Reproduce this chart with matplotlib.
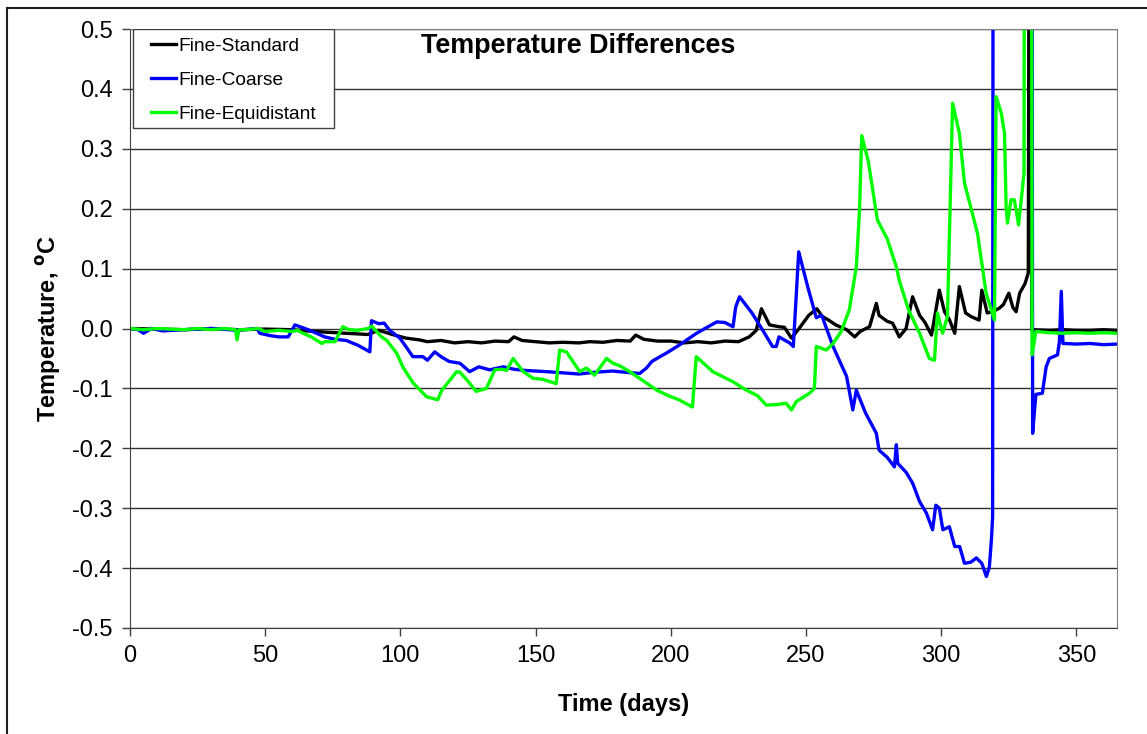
""" Temperature differences between grid resolutions """

import numpy as np
import matplotlib.pyplot as plt
from matplotlib.lines import Line2D
from matplotlib.patches import Rectangle

plt.rcParams['font.family'] = ['Liberation Sans', 'DejaVu Sans']
plt.rcParams['axes.unicode_minus'] = False

# Fine-Standard
std_days = [0, 10, 20, 30, 40, 50, 60, 65, 72, 80, 88, 92, 97, 102, 107, 110,
            115, 120, 125, 130, 135, 140, 142, 145, 150, 155, 160, 166, 170,
            175, 180, 185, 187, 190, 195, 200, 205, 210, 215, 220, 225, 229,
            231.6, 233.5, 236.5, 240, 242, 244.6, 247.6, 251, 254, 256, 258,
            261, 265, 268, 270, 273.5, 276, 277, 280, 282, 284.5, 287, 289.4,
            292, 294, 296.4, 299.3, 301.2, 303, 305, 306.7, 309, 311, 314, 315,
            317, 319, 321.5, 323, 325, 326.5, 327.7, 329, 331, 332.2, 332.6,
            333.2, 333.5, 340, 345, 350, 355, 360, 365]
std_vals = [0, -0.001, -0.002, 0, -0.002, -0.001, -0.002, -0.004, -0.006,
            -0.008, -0.010, -0.003, -0.010, -0.016, -0.019, -0.022, -0.020,
            -0.024, -0.022, -0.024, -0.021, -0.022, -0.014, -0.020, -0.022,
            -0.024, -0.023, -0.024, -0.022, -0.023, -0.020, -0.021, -0.011,
            -0.018, -0.021, -0.021, -0.024, -0.022, -0.024, -0.021, -0.022,
            -0.014, -0.003, 0.033, 0.006, 0.003, 0.002, -0.016, 0.001, 0.022,
            0.033, 0.020, 0.015, 0.006, -0.002, -0.014, -0.005, 0.003, 0.042,
            0.022, 0.012, 0.009, -0.014, 0.000, 0.053, 0.022, 0.010, -0.011,
            0.064, 0.028, 0.015, -0.008, 0.070, 0.026, 0.020, 0.014, 0.064,
            0.026, 0.028, 0.034, 0.040, 0.059, 0.035, 0.028, 0.059, 0.075,
            0.093, 1.0, 1.0, -0.002, -0.003, -0.002, -0.003, -0.003, -0.002,
            -0.003]

# Fine-Coarse
crs_days = [0, 3, 5, 8, 12, 20, 30, 40, 47, 48, 52, 55, 58.5, 61, 64.7, 68,
            72, 75.8, 80, 84.3, 88.7, 89.3, 92, 94, 96, 99.8, 102, 104.6,
            108.3, 110, 112.7, 115, 118, 122, 125.6, 129, 133, 138, 142, 146,
            150, 154, 160, 166, 172, 178.5, 183, 188.5, 191, 193, 196, 198.4,
            203, 209.5, 213, 217, 220, 223, 224, 225.4, 230, 234, 237.6, 239,
            240, 243.9, 245.3, 247.3, 250.6, 253.8, 255.8, 260, 265, 267.3,
            268.6, 272, 276, 277, 280, 282.7, 283.4, 283.9, 287, 289.4, 292,
            294.5, 296.8, 298, 299.3, 300.6, 303, 305, 306.8, 308.6, 311, 313,
            315, 316.7, 317.8, 318.6, 319.0, 319.3, 333.4, 333.8, 335, 337.4,
            338.8, 340, 343, 343.7, 344.4, 345, 345.5, 350, 355, 360, 365]
crs_vals = [0, -0.002, -0.008, 0, -0.004, -0.002, 0, -0.003, 0, -0.008,
            -0.012, -0.014, -0.014, 0.006, 0.000, -0.006, -0.014, -0.018,
            -0.020, -0.028, -0.039, 0.013, 0.008, 0.009, -0.003, -0.016,
            -0.030, -0.047, -0.047, -0.053, -0.039, -0.047, -0.055, -0.058,
            -0.072, -0.064, -0.069, -0.064, -0.068, -0.070, -0.071, -0.072,
            -0.074, -0.076, -0.073, -0.071, -0.073, -0.075, -0.066, -0.055,
            -0.047, -0.041, -0.028, -0.008, 0.001, 0.011, 0.010, 0.003, 0.036,
            0.053, 0.026, -0.003, -0.030, -0.030, -0.014, -0.024, -0.030,
            0.128, 0.070, 0.018, 0.022, -0.030, -0.080, -0.136, -0.103, -0.141,
            -0.175, -0.203, -0.215, -0.231, -0.194, -0.225, -0.240, -0.258,
            -0.289, -0.308, -0.336, -0.295, -0.300, -0.336, -0.331, -0.364,
            -0.364, -0.392, -0.390, -0.383, -0.392, -0.414, -0.398, -0.350,
            -0.314, 1.5, 1.5, -0.175, -0.110, -0.108, -0.064, -0.050, -0.044,
            -0.022, 0.062, -0.025, -0.025, -0.026, -0.025, -0.027, -0.026]

# Fine-Equidistant
eqd_days = [0, 5, 10, 15, 20, 25, 30, 35, 39, 39.6, 40.3, 43, 47.4, 50, 55,
            60, 62, 64, 67, 71, 72, 75.8, 78.7, 81, 84, 88, 89.4, 93, 95,
            98.6, 101, 104.7, 108.4, 109.7, 113.8, 115.3, 118, 120.8, 122, 125,
            128, 131.8, 134.9, 137.5, 139.3, 141.7, 145.4, 149, 152.7, 157.6,
            158.9, 161.4, 166.3, 168.8, 171.8, 176.2, 178.6, 181, 184.8, 190,
            194.8, 199, 203, 208, 209.4, 215.5, 219, 223, 228, 232, 235.3, 239,
            242.7, 244.6, 246.4, 251.3, 253.1, 253.8, 257.5, 260, 263, 266,
            268.6, 269.8, 270.6, 273, 276.4, 280, 283.4, 284.5, 288, 292,
            295.6, 297.5, 298.6, 300.5, 302.3, 304.2, 306.7, 308.6, 313.4,
            316.6, 319.7, 320.3, 322.2, 323.4, 324, 324.5, 325.8, 327, 327.7,
            328.6, 329.6, 330.6, 331.0, 333.2, 333.6, 335, 340, 345, 350, 355,
            360, 365]
eqd_vals = [0, -0.002, 0, -0.001, -0.002, 0, -0.002, 0, -0.002, -0.019,
            -0.002, -0.002, 0, -0.005, -0.003, -0.005, -0.003, -0.008, -0.014,
            -0.025, -0.022, -0.022, 0.003, -0.002, -0.003, 0.000, 0.004, -0.014,
            -0.020, -0.041, -0.065, -0.091, -0.108, -0.114, -0.119, -0.103,
            -0.088, -0.072, -0.073, -0.088, -0.105, -0.100, -0.069, -0.068,
            -0.070, -0.050, -0.072, -0.083, -0.085, -0.092, -0.036, -0.039,
            -0.072, -0.066, -0.078, -0.050, -0.058, -0.062, -0.072, -0.088,
            -0.103, -0.112, -0.119, -0.131, -0.047, -0.072, -0.080, -0.089,
            -0.103, -0.112, -0.128, -0.127, -0.125, -0.136, -0.122, -0.108,
            -0.100, -0.030, -0.036, -0.025, -0.005, 0.031, 0.103, 0.200, 0.322,
            0.280, 0.181, 0.150, 0.103, 0.080, 0.030, -0.008, -0.050, -0.053,
            0.026, -0.008, 0.020, 0.376, 0.326, 0.243, 0.159, 0.059, 0.014,
            0.387, 0.360, 0.326, 0.203, 0.176, 0.215, 0.215, 0.198, 0.173,
            0.215, 0.259, 1.5, 1.5, -0.044, -0.005, -0.007, -0.008, -0.007,
            -0.008, -0.007, -0.008]

x_ticks = [0, 50, 100, 150, 200, 250, 300, 350]
y_ticks = [-0.5, -0.4, -0.3, -0.2, -0.1, 0.0, 0.1, 0.2, 0.3, 0.4, 0.5]

series = [("Fine-Standard", std_days, std_vals, "#000000"),
          ("Fine-Coarse", crs_days, crs_vals, "#0000ff"),
          ("Fine-Equidistant", eqd_days, eqd_vals, "#00ff00")]

W, H = 1147, 734
fig = plt.figure(figsize=(W / 100, H / 100), dpi=100)
ax = fig.add_axes([130 / W, 106 / H, 987 / W, 599 / H])

for name, days, vals, color in series:
    ax.plot(days, vals, color=color, lw=2.4, label=name, solid_joinstyle="round")

ax.set_xlim(0, 365)
ax.set_ylim(-0.5, 0.5)
ax.set_xticks(x_ticks)
ax.set_yticks(y_ticks)
ax.set_yticklabels(["%.1f" % v for v in y_ticks])
ax.yaxis.grid(True, color="#303030", lw=1.0)
ax.set_axisbelow(True)
ax.tick_params(direction="out", length=5.5, width=1, labelsize=17,
               color="#404040", pad=7)

for side in ("top", "right"):
    ax.spines[side].set_color("#808080")
for side in ("left", "bottom"):
    ax.spines[side].set_color("#404040")

ax.set_xlabel("Time (days)", fontsize=17, fontweight="bold")
ax.set_ylabel("Temperature, $^{\\mathbf{o}}$C", fontsize=17, fontweight="bold")
ax.xaxis.set_label_coords(0.5, -0.108)
ax.yaxis.set_label_coords(-0.068, 0.5)

ax.text(0.454, 0.971, "Temperature Differences", transform=ax.transAxes,
        ha="center", va="center", fontsize=19.4, fontweight="bold")

# legend box drawn separately so horizontal padding can be wider
leg = ax.legend(loc="upper left", bbox_to_anchor=(14 / 987, 1 - 2 / 599),
                borderaxespad=0, fontsize=13.8, handlelength=1.3,
                handletextpad=0.15, labelspacing=0.85, frameon=False,
                borderpad=0.35)
ax.add_patch(Rectangle((3 / 987, 1 - 99 / 599), 201 / 987, 99 / 599,
                       transform=ax.transAxes, facecolor="white",
                       edgecolor="#404040", lw=1, zorder=4))

# outer chart frame
fig.add_artist(Line2D([7 / W, 7 / W], [0, 1 - 8 / H],
                      transform=fig.transFigure, color="#202020", lw=1.5))
fig.add_artist(Line2D([7 / W, 1], [1 - 8 / H, 1 - 8 / H],
                      transform=fig.transFigure, color="#202020", lw=1.5))

fig.savefig("out.png", dpi=100)
